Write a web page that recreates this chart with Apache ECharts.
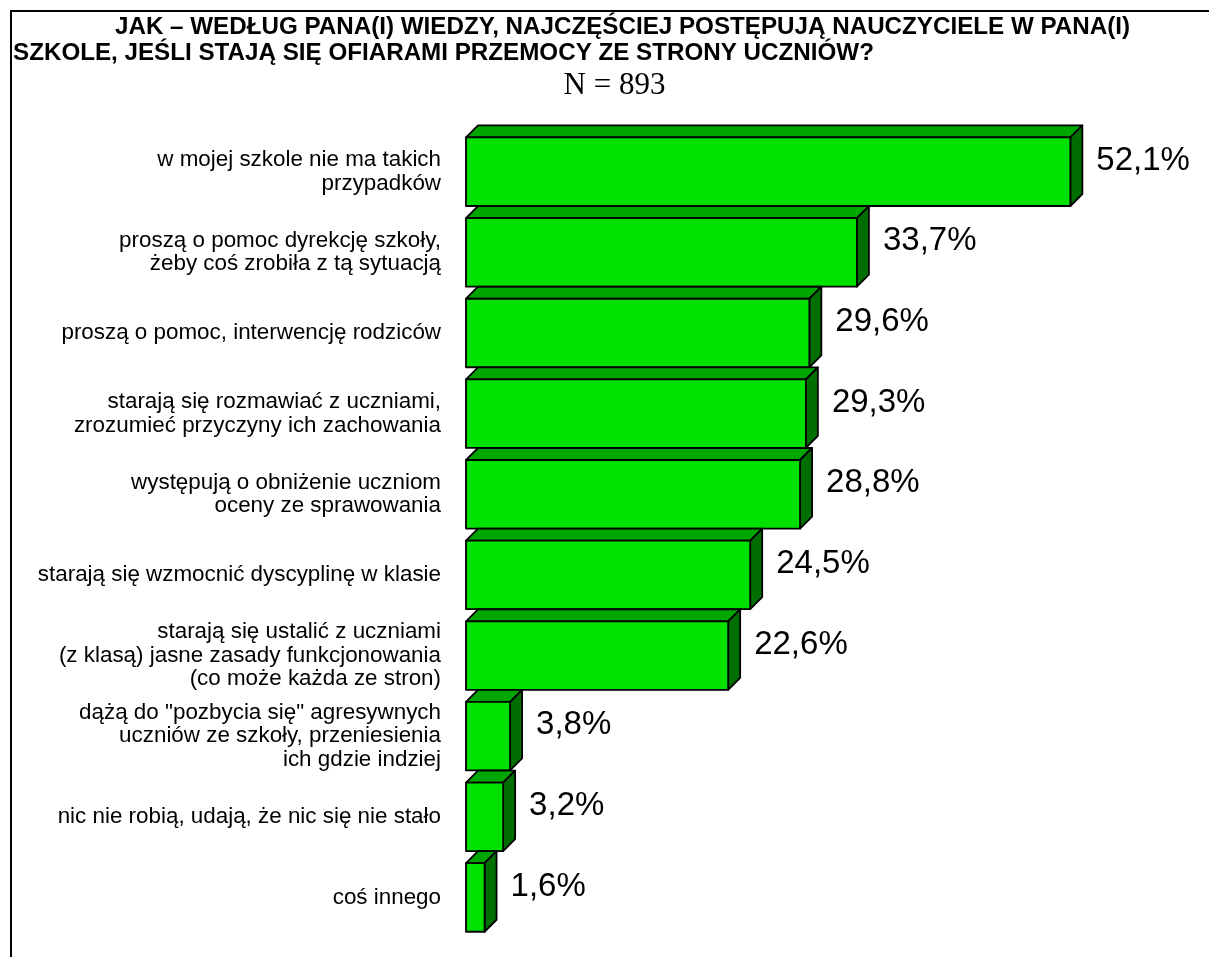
<!DOCTYPE html>
<html>
<head>
<meta charset="utf-8">
<script src="https://cdn.jsdelivr.net/npm/echarts@6/dist/echarts.min.js"></script>
<style>
html,body{margin:0;padding:0;background:#fff;}
#chart{width:1209px;height:957px;}
</style>
</head>
<body>
<div id="chart"></div>
<script>
const titleLine1 = 'JAK – WEDŁUG PANA(I) WIEDZY, NAJCZĘŚCIEJ POSTĘPUJĄ NAUCZYCIELE W PANA(I)';
const titleLine2 = 'SZKOLE, JEŚLI STAJĄ SIĘ OFIARAMI PRZEMOCY ZE STRONY UCZNIÓW?';
const subtitle = 'N = 893';

const categories = [
  'w mojej szkole nie ma takich\nprzypadków',
  'proszą o pomoc dyrekcję szkoły,\nżeby coś zrobiła z tą sytuacją',
  'proszą o pomoc, interwencję rodziców',
  'starają się rozmawiać z uczniami,\nzrozumieć przyczyny ich zachowania',
  'występują o obniżenie uczniom\noceny ze sprawowania',
  'starają się wzmocnić dyscyplinę w klasie',
  'starają się ustalić z uczniami\n(z klasą) jasne zasady funkcjonowania\n(co może każda ze stron)',
  'dążą do "pozbycia się" agresywnych\nuczniów ze szkoły, przeniesienia\nich gdzie indziej',
  'nic nie robią, udają, że nic się nie stało',
  'coś innego'
];
const values = [52.1, 33.7, 29.6, 29.3, 28.8, 24.5, 22.6, 3.8, 3.2, 1.6];

const FRONT = '#00E100';
const TOPC = '#00A600';
const SIDE = '#006E00';
const DEPTH = 12;

const chart = echarts.init(document.getElementById('chart'), null, {renderer: 'canvas'});

function fmt(v) { return v.toFixed(1).replace('.', ',') + '%'; }

const titleFont = 'bold 24.2px "Liberation Sans", Arial, sans-serif';

const option = {
  backgroundColor: '#fff',
  animation: false,
  grid: {left: 466, right: 47, top: 131.4, bottom: 19.2, containLabel: false},
  xAxis: {
    type: 'value', min: 0, max: 60, show: false
  },
  yAxis: {
    type: 'category',
    data: categories,
    inverse: true,
    axisLine: {show: false},
    axisTick: {show: false},
    splitLine: {show: false},
    axisLabel: {
      margin: 25,
      align: 'right',
      fontFamily: '"Liberation Sans", Arial, sans-serif',
      fontSize: 22.4,
      lineHeight: 23.5,
      color: '#000'
    }
  },
  graphic: [
    {type: 'line', shape: {x1: 10, y1: 11, x2: 1209, y2: 11}, style: {stroke: '#000', lineWidth: 2}},
    {type: 'line', shape: {x1: 11, y1: 10, x2: 11, y2: 957}, style: {stroke: '#000', lineWidth: 2}},
    {type: 'text', x: 115, y: 27, style: {text: titleLine1, font: titleFont, fill: '#000', textVerticalAlign: 'middle', textAlign: 'left'}},
    {type: 'text', x: 13, y: 53, style: {text: titleLine2, font: titleFont, fill: '#000', textVerticalAlign: 'middle', textAlign: 'left'}},
    {type: 'text', x: 614.5, y: 86, style: {text: subtitle, font: '31px "Liberation Serif", "Times New Roman", serif', fill: '#000', textAlign: 'center', textVerticalAlign: 'middle'}}
  ],
  series: [{
    type: 'custom',
    data: values.map((v, i) => [i, v]),
    encode: {x: 1, y: 0},
    renderItem: function (params, api) {
      const cat = api.value(0);
      const v = api.value(1);
      const p0 = api.coord([0, cat]);
      const p1 = api.coord([v, cat]);
      const band = api.size([0, 1])[1];
      const h = band * 0.85;
      const d = DEPTH;
      const x0 = p0[0], x1 = p1[0], cy = p0[1];
      const top = cy - h / 2, bot = cy + h / 2;
      const st = {stroke: '#000', lineWidth: 1.8, lineJoin: 'round'};
      return {
        type: 'group',
        children: [
          {type: 'polygon', shape: {points: [[x0, top], [x0 + d, top - d], [x1 + d, top - d], [x1, top]]}, style: Object.assign({fill: TOPC}, st)},
          {type: 'polygon', shape: {points: [[x1, top], [x1 + d, top - d], [x1 + d, bot - d], [x1, bot]]}, style: Object.assign({fill: SIDE}, st)},
          {type: 'rect', shape: {x: x0, y: top, width: x1 - x0, height: h}, style: Object.assign({fill: FRONT}, st)},
          {type: 'text', x: x1 + d + 14, y: cy - 11, style: {text: fmt(v), font: '33px "Liberation Sans", Arial, sans-serif', fill: '#000', textAlign: 'left', textVerticalAlign: 'middle'}}
        ]
      };
    }
  }]
};
chart.setOption(option);
</script>
</body>
</html>
